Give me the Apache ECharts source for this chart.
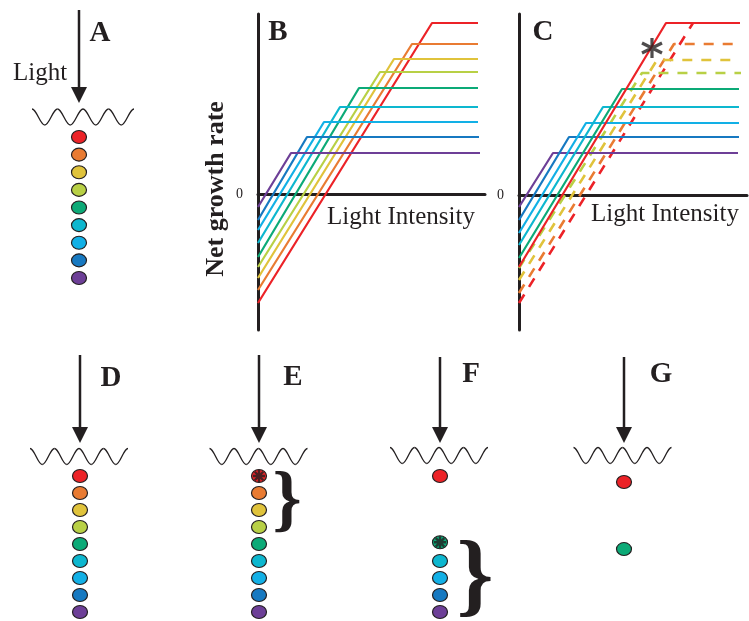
<!DOCTYPE html>
<html>
<head>
<meta charset="utf-8">
<script src="https://cdn.jsdelivr.net/npm/echarts@6/dist/echarts.min.js"></script>
<style>
  html, body { margin: 0; padding: 0; background: #fff; }
  #chart { width: 749px; height: 621px; }
</style>
</head>
<body>
<div id="chart"></div>
<script>
// phytoplankton types, top of the water column first
const groups = ['red', 'orange', 'yellow', 'yellowgreen', 'green', 'cyan', 'skyblue', 'blue', 'purple'];
const palette = ['#ec2227', '#e97b32', '#e0c33b', '#b8d045', '#0caa77', '#0db7cf', '#12b0e6', '#1779c1', '#6d3f97'];

// panel B: net growth vs light (intercept at zero light, saturating light, plateau)
const bIntercept = [-10.9, -9.6, -8.4, -7.3, -6.3, -4.9, -3.6, -2.6, -1.3];
const bSaturation = [17.4, 15.4, 13.6, 12.2, 10.1, 8.2, 6.6, 4.9, 3.3];
const bPlateau = [17.1, 15.0, 13.5, 12.2, 10.6, 8.7, 7.2, 5.7, 4.1];
const bEnd = [22.0, 22.0, 22.0, 22.0, 22.0, 22.0, 22.0, 22.1, 22.2];

// panel C: solid curves
const cSolidGroups = [0, 4, 5, 6, 7, 8];
const cSolidIntercept = [-7.2, -6.3, -5.0, -3.8, -2.5, -1.2];
const cSolidSaturation = [14.7, 10.3, 8.4, 6.7, 5.0, 3.4];
const cSolidPlateau = [17.2, 10.6, 8.8, 7.2, 5.8, 4.2];
const cSolidEnd = [22.1, 22.0, 22.0, 22.0, 22.0, 21.9];
// panel C: dashed curves (original curves of the top four types)
const cDashGroups = [0, 1, 2, 3];
const cDashIntercept = [-10.8, -9.8, -8.5, -7.3];
const cDashSaturation = [17.4, 15.5, 13.8, 12.3];
const cDashPlateau = [17.2, 15.1, 13.5, 12.2];
const cDashEnd = [17.4, 22.0, 22.0, 22.2];
const cStar = [13.3, 14.7];

// water column panels: which cell type sits at which depth (cell units)
const colA = { cells: [0, 1, 2, 3, 4, 5, 6, 7, 8], depth: [0, 1, 2, 3, 4, 5, 6, 7, 8], marked: [] };
const colD = { cells: [0, 1, 2, 3, 4, 5, 6, 7, 8], depth: [0, 1, 2, 3, 4, 5, 6, 7, 8], marked: [] };
const colE = { cells: [0, 1, 2, 3, 4, 5, 6, 7, 8], depth: [0, 1, 2, 3, 4, 5, 6, 7, 8], marked: [0] };
const colF = { cells: [0, 4, 5, 6, 7, 8], depth: [0, 3.9, 5, 6, 7, 8], marked: [4] };
const colG = { cells: [0, 4], depth: [0.35, 4.3], marked: [] };

const ink = '#231f20';
const serif = '"Liberation Serif", "DejaVu Serif", serif';

let myChart = echarts.init(document.getElementById('chart'), null, { renderer: 'canvas' });

// 坐标轴 (B, C)
function curveAxes(gi, min, max, xmax) {
  return {
    x: {
      gridIndex: gi, type: 'value', min: 0, max: xmax,
      axisLine: { onZero: true, lineStyle: { color: ink, width: 3 } },
      axisTick: { show: false }, axisLabel: { show: false }, splitLine: { show: false }
    },
    y: {
      gridIndex: gi, type: 'value', min: min, max: max,
      axisLine: { show: true, lineStyle: { color: ink, width: 3 } },
      axisTick: { show: false }, splitLine: { show: false },
      axisLabel: {
        margin: 15, color: ink, fontFamily: serif, fontSize: 14,
        formatter: v => (v === 0 ? '0' : '')
      }
    }
  };
}

const grids = [
  { left: 258, top: 14, width: 227, height: 316 },   // B
  { left: 519, top: 14, width: 228, height: 316 }    // C
];
const ax = [curveAxes(0, -13.6, 18, 22.7), curveAxes(1, -13.5, 18.1, 22.8)];
const xAxes = [ax[0].x, ax[1].x];
const yAxes = [ax[0].y, ax[1].y];

// water column grids
const columns = [
  { col: colA, cx: 79, top: 128.2, height: 158.6 },
  { col: colD, cx: 80, top: 467.5, height: 153 },
  { col: colE, cx: 259, top: 467.5, height: 153 },
  { col: colF, cx: 440, top: 467.5, height: 153 },
  { col: colG, cx: 624, top: 467.5, height: 153 }
];
columns.forEach(c => {
  const gi = grids.length;
  grids.push({ left: c.cx - 20, width: 40, top: c.top, height: c.height });
  xAxes.push({ gridIndex: gi, type: 'value', min: -1, max: 1, show: false });
  yAxes.push({ gridIndex: gi, type: 'value', min: -0.5, max: 8.5, inverse: true, show: false });
  c.gi = gi;
});

const series = [];

// B curves
groups.forEach((g, i) => {
  series.push({
    name: 'B-' + g, type: 'line', xAxisIndex: 0, yAxisIndex: 0,
    showSymbol: false, symbol: 'none', silent: true,
    lineStyle: { color: palette[i], width: 2.2 },
    data: [[0, bIntercept[i]], [bSaturation[i], bPlateau[i]], [bEnd[i], bPlateau[i]]]
  });
});

// C dashed curves first, then solid
cDashGroups.forEach((k, i) => {
  series.push({
    name: 'C-dash-' + groups[k], type: 'line', xAxisIndex: 1, yAxisIndex: 1,
    showSymbol: false, symbol: 'none', silent: true,
    lineStyle: { color: palette[k], width: 2.6, type: [10, 9] },
    data: [[0, cDashIntercept[i]], [cDashSaturation[i], cDashPlateau[i]], [cDashEnd[i], cDashPlateau[i]]]
  });
});
cSolidGroups.slice().reverse().forEach(k => {
  const i = cSolidGroups.indexOf(k);
  series.push({
    name: 'C-' + groups[k], type: 'line', xAxisIndex: 1, yAxisIndex: 1,
    showSymbol: false, symbol: 'none', silent: true,
    lineStyle: { color: palette[k], width: 2.2 },
    data: [[0, cSolidIntercept[i]], [cSolidSaturation[i], cSolidPlateau[i]], [cSolidEnd[i], cSolidPlateau[i]]]
  });
});
series.push({
  name: 'C-star', type: 'scatter', xAxisIndex: 1, yAxisIndex: 1, silent: true, z: 5,
  symbol: 'path://M10,0L10,20M1.3,5L18.7,15M1.3,15L18.7,5', symbolSize: 20,
  itemStyle: { color: 'none', borderColor: ink, borderWidth: 3.2 },
  data: [cStar]
});

// cells
columns.forEach(c => {
  series.push({
    type: 'scatter', xAxisIndex: c.gi, yAxisIndex: c.gi, silent: true,
    symbol: 'circle', symbolSize: [15, 13],
    itemStyle: { borderColor: ink, borderWidth: 1.1, opacity: 1 },
    data: c.col.cells.map((k, j) => ({ value: [0, c.col.depth[j]], itemStyle: { color: palette[k] } }))
  });
  if (c.col.marked.length) {
    series.push({
      type: 'scatter', xAxisIndex: c.gi, yAxisIndex: c.gi, silent: true, z: 4,
      symbol: 'path://M10,0L10,20M0,10L20,10M2.9,2.9L17.1,17.1M2.9,17.1L17.1,2.9', symbolSize: 12,
      itemStyle: { color: 'none', borderColor: ink, borderWidth: 2.4 },
      data: c.col.marked.map(k => [0, c.col.depth[c.col.cells.indexOf(k)]])
    });
  }
});

// 装饰: arrows, water surface, letters, braces
function arrow(x, top, tip) {
  return [
    { type: 'line', shape: { x1: x, y1: top, x2: x, y2: tip - 12 }, style: { stroke: ink, lineWidth: 2.5 } },
    { type: 'polygon', shape: { points: [[x - 8, tip - 16], [x + 8, tip - 16], [x, tip]] }, style: { fill: ink } }
  ];
}
function wave(cx, cy, w) {
  const half = w / 8, amp = 8, out = [];
  let x = cx - w / 2, up = true;
  for (let i = 0; i < 8; i++) {
    const y0 = up ? cy - amp : cy + amp, y1 = up ? cy + amp : cy - amp;
    out.push({
      type: 'bezierCurve',
      shape: { x1: x, y1: y0, cpx1: x + half * 0.364, cpy1: y0, cpx2: x + half * 0.636, cpy2: y1, x2: x + half, y2: y1 },
      style: { stroke: ink, lineWidth: 1.3, fill: null }
    });
    x += half; up = !up;
  }
  return out;
}
// text centred on (x, y)
function txt(s, x, y, font, opts) {
  return {
    type: 'text', x: x, y: y,
    style: Object.assign({ text: s, font: font, fill: ink, textAlign: 'center', textVerticalAlign: 'middle' }, opts || {})
  };
}
const letterFont = 'bold 29px ' + serif;
const nameLabel = txt('Net growth rate', 216, 189, 'bold 26px ' + serif);
nameLabel.rotation = Math.PI / 2;

const graphic = [].concat(
  arrow(79, 10, 103), arrow(80, 355, 443), arrow(259, 355, 443), arrow(440, 357, 443), arrow(624, 357, 443),
  wave(83, 117, 102), wave(79, 456.5, 98), wave(258.5, 456.5, 98), wave(439, 455.5, 98), wave(622.5, 455.5, 98),
  [
    txt('A', 100, 34, letterFont), txt('B', 278, 33, letterFont), txt('C', 543, 33, letterFont),
    txt('D', 111, 379, letterFont), txt('E', 293, 378, letterFont), txt('F', 471, 375, letterFont),
    txt('G', 661, 375, letterFont),
    txt('Light', 40, 73, '25px ' + serif),
    txt('Light Intensity', 401, 217, '25px ' + serif),
    txt('Light Intensity', 665, 214, '25px ' + serif),
    nameLabel,
    txt('}', 287, 504, 'bold 74px ' + serif),
    txt('}', 475, 581, 'bold 94px ' + serif)
  ]
);

myChart.setOption({
  animation: false,
  backgroundColor: '#fff',
  grid: grids,
  xAxis: xAxes,
  yAxis: yAxes,
  series: series,
  graphic: { elements: graphic }
});
</script>
</body>
</html>
